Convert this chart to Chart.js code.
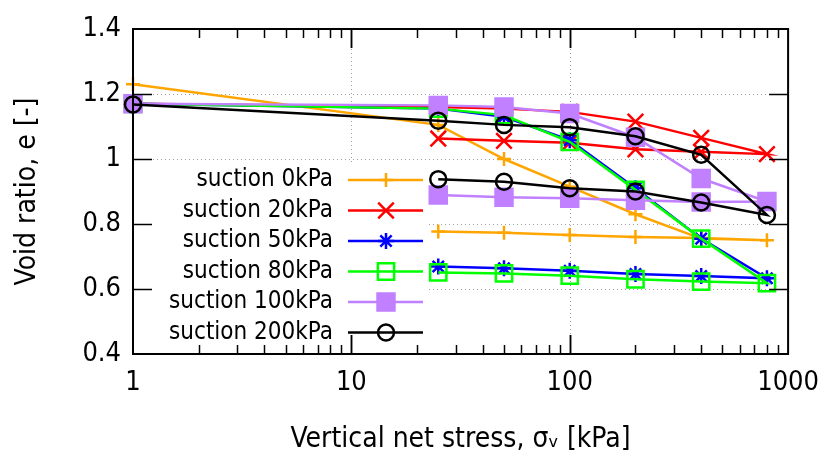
<!DOCTYPE html>
<html>
<head>
<meta charset="utf-8">
<script src="https://cdn.jsdelivr.net/npm/chart.js@4.4.1/dist/chart.umd.min.js"></script>
<style>
  body { margin: 0; background: #ffffff; }
</style>
</head>
<body>
<canvas id="myChart" width="832" height="464"></canvas>
<script>
// loading path 1 -> 800 kPa, then unloading back to 25 kPa
const stress = [1, 25, 50, 100, 200, 400, 800, 400, 200, 100, 50, 25];

const suctionLabels = [
  "suction 0kPa",
  "suction 20kPa",
  "suction 50kPa",
  "suction 80kPa",
  "suction 100kPa",
  "suction 200kPa",
];

const eSuction0 = [1.23, 1.105, 1.0, 0.915, 0.83, 0.755, 0.75, 0.757, 0.76, 0.766, 0.773, 0.777];
const eSuction20 = [1.17, 1.16, 1.155, 1.145, 1.115, 1.065, 1.015, 1.022, 1.03, 1.05, 1.056, 1.063];
const eSuction50 = [1.17, 1.155, 1.13, 1.058, 0.91, 0.755, 0.633, 0.64, 0.646, 0.656, 0.664, 0.669];
const eSuction80 = [1.17, 1.155, 1.135, 1.053, 0.905, 0.755, 0.618, 0.623, 0.63, 0.641, 0.648, 0.651];
const eSuction100 = [1.17, 1.165, 1.16, 1.14, 1.067, 0.94, 0.869, 0.868, 0.873, 0.879, 0.882, 0.889];
const eSuction200 = [1.168, 1.118, 1.105, 1.098, 1.07, 1.013, 0.828, 0.866, 0.9, 0.91, 0.93, 0.938];

const xTickValues = [1, 10, 100, 1000];
const xTickLabels = ["1", "10", "100", "1000"];
const yTickValues = [0.4, 0.6, 0.8, 1.0, 1.2, 1.4];
const yTickLabels = ["0.4", "0.6", "0.8", "1", "1.2", "1.4"];

const allSeries = [eSuction0, eSuction20, eSuction50, eSuction80, eSuction100, eSuction200];

// gnuplot-like line/point types
const styles = [
  { color: "#ffa500", pointStyle: "cross", radius: 7, fill: "rgba(0,0,0,0)" },
  { color: "#ff0000", pointStyle: "crossRot", radius: 11, fill: "rgba(0,0,0,0)" },
  { color: "#0000ff", pointStyle: "star", radius: 8, fill: "rgba(0,0,0,0)" },
  { color: "#00ff00", pointStyle: "rect", radius: 11.5, fill: "rgba(0,0,0,0)" },
  { color: "#c080ff", pointStyle: "rect", radius: 12, fill: "#c080ff" },
  { color: "#000000", pointStyle: "circle", radius: 8, fill: "rgba(0,0,0,0)" },
];

const FONT = "'DejaVu Sans Condensed', 'DejaVu Sans'";
Chart.defaults.font.family = FONT;
Chart.defaults.color = "#000000";

const datasets = allSeries.map((values, i) => ({
  label: suctionLabels[i],
  data: values.map((e, k) => ({ x: stress[k], y: e })),
  showLine: true,
  borderColor: styles[i].color,
  backgroundColor: styles[i].fill,
  borderWidth: 2.5,
  pointStyle: styles[i].pointStyle,
  pointRadius: styles[i].radius,
  pointBorderWidth: 2.5,
  pointBorderColor: styles[i].color,
  pointBackgroundColor: styles[i].fill,
  tension: 0,
  clip: false,
  order: allSeries.length - 1 - i, // later series drawn on top
}));

function strokeLine(ctx, x1, y1, x2, y2) {
  ctx.beginPath();
  ctx.moveTo(x1, y1);
  ctx.lineTo(x2, y2);
  ctx.stroke();
}

const framePlugin = {
  id: "frame",
  beforeDatasetsDraw(chart) {
    const { ctx, chartArea: a, scales } = chart;
    ctx.save();
    ctx.strokeStyle = "#a0a0a0";
    ctx.lineWidth = 1;
    ctx.setLineDash([1, 3]);
    yTickValues.slice(1, -1).forEach((v) => {
      const py = Math.round(scales.y.getPixelForValue(v)) + 0.5;
      strokeLine(ctx, a.left, py, a.right, py);
    });
    xTickValues.slice(1, -1).forEach((v) => {
      const px = Math.round(scales.x.getPixelForValue(v)) + 0.5;
      strokeLine(ctx, px, a.top, px, a.bottom);
    });
    ctx.restore();
  },
  afterDatasetsDraw(chart) {
    const { ctx, chartArea: a, scales } = chart;
    ctx.save();

    // opaque key
    ctx.fillStyle = "#ffffff";
    ctx.fillRect(152, 164, 276, 186);
    ctx.font = "24px " + FONT;
    ctx.textAlign = "right";
    ctx.textBaseline = "middle";
    suctionLabels.forEach((label, i) => {
      const cy = 180 + i * 30.5;
      ctx.fillStyle = "#000000";
      ctx.fillText(label, 333, cy);
      ctx.strokeStyle = styles[i].color;
      ctx.lineWidth = 2.5;
      strokeLine(ctx, 348, cy, 423, cy);
      ctx.fillStyle = styles[i].fill;
      Chart.helpers.drawPoint(ctx, {
        pointStyle: styles[i].pointStyle,
        radius: styles[i].radius,
        rotation: 0,
        borderWidth: 2.5,
      }, 386, cy);
    });

    // border and inward ticks on all four sides
    ctx.strokeStyle = "#000000";
    ctx.lineWidth = 1.5;
    const major = 19;
    const minor = 9;
    for (let d = 1; d < 1000; d *= 10) {
      for (let m = 1; m <= 10; m++) {
        const v = d * m;
        if (v === 1 || v === 1000) continue;
        const px = Math.round(scales.x.getPixelForValue(v)) + 0.5;
        const len = m === 1 || m === 10 ? major : minor;
        strokeLine(ctx, px, a.bottom, px, a.bottom - len);
        strokeLine(ctx, px, a.top, px, a.top + len);
      }
    }
    yTickValues.slice(1, -1).forEach((v) => {
      const py = Math.round(scales.y.getPixelForValue(v)) + 0.5;
      strokeLine(ctx, a.left, py, a.left + major, py);
      strokeLine(ctx, a.right, py, a.right - major, py);
    });
    ctx.lineWidth = 2;
    ctx.strokeRect(a.left, a.top, a.right - a.left, a.bottom - a.top);
    ctx.restore();
  },
};

const config = {
  type: "scatter",
  data: { datasets: datasets },
  options: {
    responsive: false,
    animation: false,
    events: [],
    layout: { padding: { left: 11, top: 29, right: 39, bottom: 7 } },
    scales: {
      x: {
        type: "logarithmic",
        min: 1,
        max: 1000,
        grid: { display: false, drawTicks: false },
        border: { display: false },
        afterBuildTicks: (axis) => {
          axis.ticks = xTickValues.map((v) => ({ value: v }));
        },
        afterFit: (axis) => {
          axis.height = 103;
        },
        ticks: {
          autoSkip: false,
          maxRotation: 0,
          padding: 13,
          font: { size: 27 },
          callback: (value) => xTickLabels[xTickValues.indexOf(value)],
        },
        title: {
          display: true,
          text: "Vertical net stress, σᵥ [kPa]",
          font: { size: 28 },
          padding: 0,
        },
      },
      y: {
        min: 0.4,
        max: 1.4,
        grid: { display: false, drawTicks: false },
        border: { display: false },
        afterBuildTicks: (axis) => {
          axis.ticks = yTickValues.map((v) => ({ value: v }));
        },
        afterFit: (axis) => {
          axis.width = 122;
        },
        ticks: {
          padding: 12,
          font: { size: 27 },
          callback: (value) => yTickLabels[yTickValues.indexOf(value)],
        },
        title: {
          display: true,
          text: "Void ratio, e [-]",
          font: { size: 28 },
          padding: 0,
        },
      },
    },
    plugins: {
      legend: { display: false },
      tooltip: { enabled: false },
    },
  },
  plugins: [framePlugin],
};

const myChart = new Chart(document.getElementById("myChart"), config);
</script>
</body>
</html>
